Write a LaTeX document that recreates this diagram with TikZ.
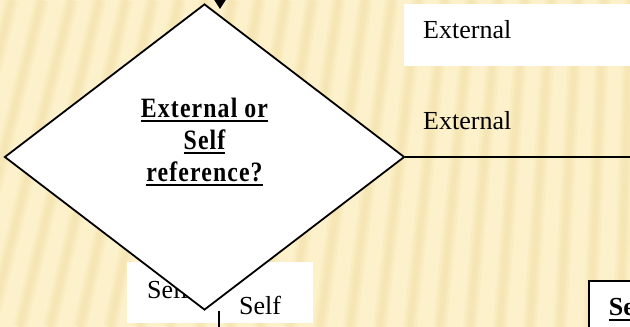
\documentclass[tikz,border=0pt]{standalone}
\usepackage{fontspec}
\setmainfont{Liberation Serif}
\usetikzlibrary{shapes.geometric,arrows.meta,positioning}
\newcommand{\decul}[1]{\vtop{\hbox{#1}\kern2.6pt\hrule height2.4pt}}
\definecolor{paper}{HTML}{FDF1CB}
\definecolor{streak}{HTML}{EDD592}

\begin{document}
\begin{tikzpicture}[x=1pt,y=1pt,
	lbl/.style={font=\fontsize{26}{32}\selectfont, inner sep=0pt, anchor=base west},
	box/.style={fill=white, inner ysep=0pt, anchor=north west, align=left,
		font=\fontsize{26}{32}\selectfont, text height=20pt},
	decision/.style={diamond, draw, fill=white, line width=1.8pt, inner sep=0pt,
		minimum width=400pt, minimum height=306pt, aspect=1.307},
	qtext/.style={align=center, inner sep=0pt,
		font=\fontsize{28}{32}\selectfont\bfseries\addfontfeature{FakeStretch=0.85,LetterSpace=4}},
	flow/.style={line width=1.8pt}]
	\useasboundingbox (0,0) rectangle (630,327);
	\clip (0,0) rectangle (630,327);
	\fill[paper] (0,0) rectangle (630,327);
	\foreach \b in {-70,-40,...,650}{
		\pgfmathsetmacro{\s}{0.25-0.22*max(\b,0)/630}
		\foreach \w in {14,9,5}
			\draw[streak, line width=\w pt, opacity=.14] (\b,0) -- ({\b+\s*327},327);
	}
	\node[box, minimum width=186pt, minimum height=61pt, inner xsep=20pt,
		text width=146pt, text depth=9pt] (selfbox) at (127,65) {Self};
	\node[decision] (dec) at (204.5,170) {};
	\node[qtext] (q) at ([yshift=15pt]dec.center)
		{\decul{External or}\\ \decul{Self}\\ \decul{reference?}};
	\node[box, minimum height=62pt, inner xsep=19pt, text width=200pt,
		text depth=14pt] (extbox) at (404,323) {External};
	\node[lbl] (extlbl) at (423,197) {External};
	\node[lbl] (selflbl) at (239,12) {Self};
	\node[box, draw, line width=1.8pt, minimum height=80pt, inner xsep=20pt,
		text width=80pt, text depth=30pt, font=\fontsize{26}{32}\selectfont\bfseries]
		(selfnext) at (588,47) {\decul{Se}};
	\coordinate (inTop) at (220,345);
	\coordinate (inTip) at (220,318);
	\coordinate (extEnd) at (640,170);
	\coordinate (selfTop) at (219,16);
	\coordinate (selfEnd) at (219,-5);
	\draw[flow, -{Triangle[width=11pt,length=9pt]}] (inTop) to (inTip);
	\draw[flow] (dec.east) to (extEnd);
	\draw[flow] (selfTop) to (selfEnd);
\end{tikzpicture}
\end{document}
